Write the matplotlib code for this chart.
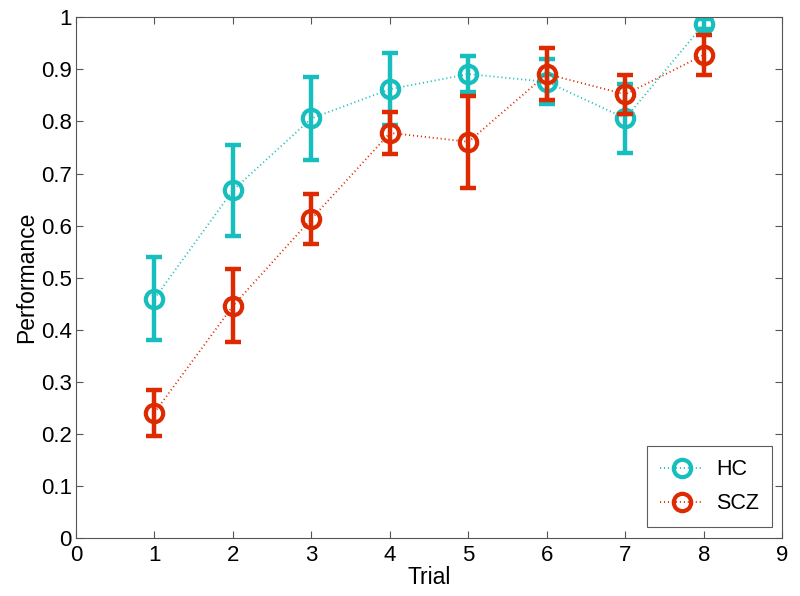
import matplotlib.pyplot as plt
import numpy as np

plt.rcParams['font.family'] = ['Liberation Sans', 'DejaVu Sans']

trial = [1, 2, 3, 4, 5, 6, 7, 8]
hc = [0.460, 0.668, 0.806, 0.862, 0.891, 0.876, 0.806, 0.987]
hc_err = [0.080, 0.087, 0.080, 0.069, 0.035, 0.043, 0.066, 0.010]
scz = [0.241, 0.446, 0.613, 0.778, 0.761, 0.891, 0.852, 0.928]
scz_err = [0.044, 0.070, 0.048, 0.040, 0.088, 0.050, 0.037, 0.038]

c_hc = '#17BEBE'
c_scz = '#DD2A00'

fig = plt.figure(figsize=(8, 5.96), dpi=100)
ax = fig.add_axes([0.095, 0.097, 0.883, 0.874])

for y, e, c, lab in [(hc, hc_err, c_hc, 'HC'), (scz, scz_err, c_scz, 'SCZ')]:
    ax.errorbar(trial, y, yerr=e, fmt='none', ecolor=c, elinewidth=3.2,
                capsize=6, capthick=3.2)
    ax.plot(trial, y, linestyle=(0, (0.6, 1.6)), color=c, lw=1.3,
            marker='o', markersize=12.5, markerfacecolor='none',
            markeredgewidth=3.0, markeredgecolor=c, label=lab)

ax.set_xlim(0, 9)
ax.set_ylim(0, 1)
ax.set_xticks(range(0, 10))
ax.set_yticks(np.arange(0, 1.01, 0.1))
ax.set_yticklabels(['0', '0.1', '0.2', '0.3', '0.4', '0.5', '0.6', '0.7', '0.8', '0.9', '1'])
ax.tick_params(direction='in', top=True, right=True, labelsize=16, length=5,
               color='#555555')
ax.tick_params(axis='x', pad=5)
ax.tick_params(axis='y', pad=3)
for s in ax.spines.values():
    s.set_color('#555555')
ax.set_xlabel('Trial', fontsize=16.5, labelpad=0)
ax.set_ylabel('Performance', fontsize=16.5, labelpad=2)

leg = ax.legend(loc='lower right', fontsize=15.5, fancybox=False, edgecolor='#333333',
                handlelength=2.0, handletextpad=0.6, borderpad=0.6, labelspacing=0.6,
                borderaxespad=0, bbox_to_anchor=(0.985, 0.021))
leg.get_frame().set_linewidth(0.8)

fig.savefig('out.png', dpi=100)
